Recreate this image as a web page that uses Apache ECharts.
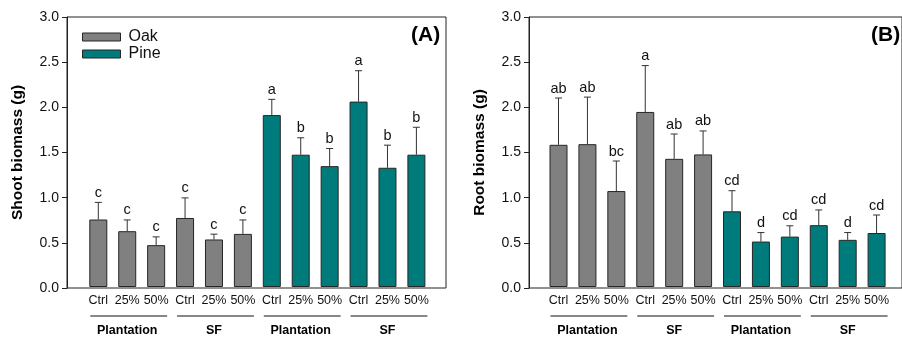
<!DOCTYPE html>
<html>
<head>
<meta charset="utf-8">
<script src="https://cdn.jsdelivr.net/npm/echarts@6/dist/echarts.min.js"></script>
<style>
  html, body { margin: 0; padding: 0; background: #fff; }
  #main { width: 902px; height: 337px; }
</style>
</head>
<body>
<div id="main"></div>
<script>
// x categories and group labels
var categories = ['Ctrl', '25%', '50%', 'Ctrl', '25%', '50%', 'Ctrl', '25%', '50%', 'Ctrl', '25%', '50%'];
var groups = ['Plantation', 'SF', 'Plantation', 'SF'];

// (A) shoot biomass
var shootOak = [0.75, 0.62, 0.465, 0.767, 0.528, 0.59];
var shootOakErr = [0.94, 0.745, 0.557, 0.99, 0.587, 0.745];
var shootPine = [1.91, 1.47, 1.343, 2.06, 1.325, 1.47];
var shootPineErr = [2.085, 1.658, 1.539, 2.403, 1.576, 1.775];
var shootLetters = ['c', 'c', 'c', 'c', 'c', 'c', 'a', 'b', 'b', 'a', 'b', 'b'];

// (B) root biomass
var rootOak = [1.58, 1.587, 1.066, 1.945, 1.424, 1.473];
var rootOakErr = [2.10, 2.11, 1.40, 2.46, 1.70, 1.734];
var rootPine = [0.841, 0.505, 0.56, 0.687, 0.524, 0.60];
var rootPineErr = [1.07, 0.605, 0.68, 0.856, 0.605, 0.80];
var rootLetters = ['ab', 'ab', 'bc', 'a', 'ab', 'ab', 'cd', 'd', 'cd', 'cd', 'd', 'cd'];

var FONT = 'Arial, "Liberation Sans", sans-serif';
var OAK = '#808080';
var PINE = '#007b7b';
var EDGE = '#262626';

var chart = echarts.init(document.getElementById('main'));

function pad(vals, before) {
  var blank = vals.map(function () { return '-'; });
  return before ? blank.concat(vals) : vals.concat(blank);
}

function frameAxes(idx, name) {
  return {
    x: { type: 'category', gridIndex: idx, data: [], show: false },
    y: {
      type: 'value', gridIndex: idx, min: 0, max: 3, interval: 0.5,
      name: name, nameLocation: 'middle', nameGap: 41,
      nameTextStyle: { fontFamily: FONT, fontSize: 15.5, fontWeight: 'bold', color: '#000' },
      axisLine: { show: true, lineStyle: { color: '#222' } },
      axisTick: { show: true, inside: false, length: 5, lineStyle: { color: '#222' } },
      axisLabel: { fontFamily: FONT, fontSize: 14, color: '#111', margin: 8,
        formatter: function (v) { return v.toFixed(1); } },
      splitLine: { show: false }
    }
  };
}

function barAxes(idx) {
  return {
    xs: [{
      type: 'category', gridIndex: idx, data: categories,
      axisLine: { show: false }, axisTick: { show: false },
      axisLabel: { fontFamily: FONT, fontSize: 12.5, color: '#111', margin: 7, interval: 0 }
    }, {
      type: 'category', gridIndex: idx, data: groups, position: 'bottom',
      axisLine: { show: false }, axisTick: { show: false },
      axisLabel: { fontFamily: FONT, fontSize: 12.5, fontWeight: 'bold', color: '#000', margin: 37, interval: 0 }
    }],
    y: { type: 'value', gridIndex: idx, min: 0, max: 3, show: false, splitLine: { show: false } }
  };
}

function errSeries(xi, yi, vals, tops, letters) {
  var data = vals.map(function (v, i) { return [i, v, tops[i]]; });
  return {
    type: 'custom', xAxisIndex: xi, yAxisIndex: yi, z: 1,
    data: data,
    renderItem: function (params, api) {
      var b = api.coord([api.value(0), api.value(1)]);
      var t = api.coord([api.value(0), api.value(2)]);
      var st = { stroke: '#333', lineWidth: 1 };
      return {
        type: 'group',
        children: [
          { type: 'line', shape: { x1: b[0], y1: b[1], x2: t[0], y2: t[1] }, style: st },
          { type: 'line', shape: { x1: t[0] - 3.5, y1: t[1], x2: t[0] + 3.5, y2: t[1] }, style: st },
          { type: 'text', x: t[0], y: t[1] - 2,
            style: { text: letters[params.dataIndex], fontFamily: FONT, fontSize: 14.5, fill: '#111',
              align: 'center', verticalAlign: 'bottom' } }
        ]
      };
    }
  };
}

function barSeries(name, xi, yi, vals, color, before) {
  return {
    name: name, type: 'bar', xAxisIndex: xi, yAxisIndex: yi,
    data: pad(vals, before), barWidth: 18, barGap: '-100%', z: 2,
    itemStyle: { color: color, borderColor: EDGE, borderWidth: 1 }
  };
}

var fA = frameAxes(0, 'Shoot biomass (g)');
var fB = frameAxes(2, 'Root biomass (g)');
var bA = barAxes(1);
var bB = barAxes(3);

// xAxis indices: 0 frameA, 1-2 barsA, 3 frameB, 4-5 barsB
var option = {
  animation: false,
  textStyle: { fontFamily: FONT },
  grid: [
    { left: 67, top: 17, width: 379, height: 271, show: true, borderColor: '#222', borderWidth: 1 },
    { left: 83.85, top: 17, width: 347, height: 271 },
    { left: 529, top: 17, width: 400, height: 271, show: true, borderColor: '#222', borderWidth: 1 },
    { left: 544.05, top: 17, width: 347, height: 271 }
  ],
  xAxis: [fA.x, bA.xs[0], bA.xs[1], fB.x, bB.xs[0], bB.xs[1]],
  yAxis: [fA.y, bA.y, fB.y, bB.y],
  legend: {
    left: 77, top: 24, orient: 'vertical', itemWidth: 38, itemHeight: 8, itemGap: 1,
    icon: 'rect', data: ['Oak', 'Pine'],
    itemStyle: { borderColor: EDGE, borderWidth: 1 },
    textStyle: { fontFamily: FONT, fontSize: 16, color: '#111', padding: [0, 0, 0, 3] }
  },
  title: [
    { text: '(A)', left: 406, top: 20, textStyle: { fontFamily: FONT, fontSize: 21, fontWeight: 'bold', color: '#000' } },
    { text: '(B)', left: 866, top: 20, textStyle: { fontFamily: FONT, fontSize: 21, fontWeight: 'bold', color: '#000' } }
  ],
  series: [
    errSeries(1, 1, shootOak.concat(shootPine), shootOakErr.concat(shootPineErr), shootLetters),
    barSeries('Oak', 1, 1, shootOak, OAK, false),
    barSeries('Pine', 1, 1, shootPine, PINE, true),
    errSeries(4, 3, rootOak.concat(rootPine), rootOakErr.concat(rootPineErr), rootLetters),
    barSeries('Oak', 4, 3, rootOak, OAK, false),
    barSeries('Pine', 4, 3, rootPine, PINE, true)
  ]
};
chart.setOption(option);

// group underlines below the tick labels
var lines = [];
[1, 4].forEach(function (xi) {
  groups.forEach(function (g, k) {
    var a = chart.convertToPixel({ xAxisIndex: xi, yAxisIndex: xi === 1 ? 1 : 3 }, [k * 3, 0]);
    var b = chart.convertToPixel({ xAxisIndex: xi, yAxisIndex: xi === 1 ? 1 : 3 }, [k * 3 + 2, 0]);
    lines.push({
      type: 'line', silent: true,
      shape: { x1: a[0] - 8, y1: 316, x2: b[0] + 11, y2: 316 },
      style: { stroke: '#111', lineWidth: 1.2 }
    });
  });
});
chart.setOption({ graphic: lines });
</script>
</body>
</html>
